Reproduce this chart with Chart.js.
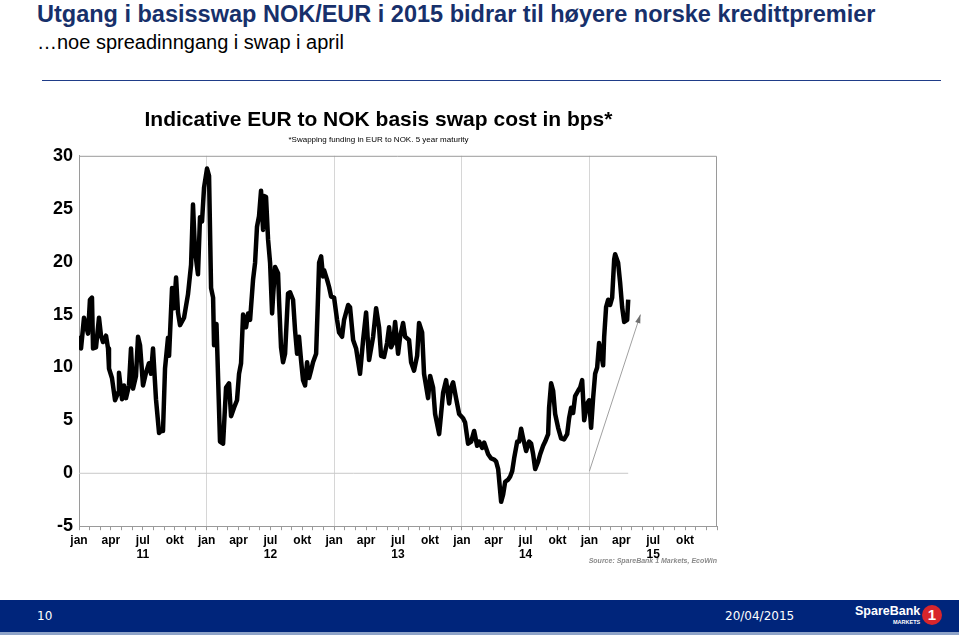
<!DOCTYPE html>
<html lang="no">
<head>
<meta charset="UTF-8">
<title>Utgang i basisswap NOK/EUR</title>
<script src="https://cdn.jsdelivr.net/npm/chart.js"></script>
<style>
    body {
        margin: 0;
        width: 959px;
        height: 635px;
        background: #fff;
        position: relative;
        overflow: hidden;
        font-family: "Liberation Sans", Arial, sans-serif;
    }
    .head {
        position: absolute;
        left: 37px;
        top: 1px;
        font-weight: bold;
        font-size: 23.5px;
        color: #17306b;
        white-space: nowrap;
    }
    .sub {
        position: absolute;
        left: 37px;
        top: 31px;
        font-size: 20px;
        color: #000;
        white-space: nowrap;
    }
    .rule {
        position: absolute;
        left: 42px;
        top: 80px;
        width: 899px;
        height: 0;
        border-top: 1.5px solid #1f3c88;
    }
    .chart-box {
        position: absolute;
        left: 40px;
        top: 100px;
        width: 690px;
        height: 475px;
    }
    .source {
        position: absolute;
        right: 242px;
        top: 557px;
        font-size: 7px;
        font-weight: bold;
        font-style: italic;
        color: #8a8a8a;
    }
    .footer {
        position: absolute;
        left: 0;
        top: 600px;
        width: 959px;
        height: 32px;
        background: #00257b;
        color: #fff;
        font-family: "DejaVu Sans", sans-serif;
        font-size: 12px;
    }
    .footer .page { position: absolute; left: 37px; top: 9px; }
    .footer .date { position: absolute; left: 725px; top: 9px; }
    .footer .logo {
        position: absolute; left: 855px; top: 4px;
        font-family: "Liberation Sans", Arial, sans-serif; font-weight: bold; font-size: 12.5px;
    }
    .footer .logo small { position: absolute; left: 38px; top: 15px; font-size: 5.5px; }
    .footer .one {
        position: absolute; left: 922px; top: 5px; width: 20px; height: 20px;
        border-radius: 50%; background: #d8262c; color: #fff; text-align: center;
        font-family: "Liberation Sans", Arial, sans-serif;
        font-weight: bold; font-size: 15px; line-height: 20px;
    }
    .strip { position: absolute; left: 0; top: 632px; width: 959px; height: 3px; background: #8ea3c8; }
</style>
</head>
<body>

<div class="head">Utgang i basisswap NOK/EUR i 2015 bidrar til høyere norske kredittpremier</div>
<div class="sub">…noe spreadinngang i swap i april</div>
<div class="rule"></div>

<div class="chart-box">
    <canvas id="swapChart"></canvas>
</div>
<div class="source">Source: SpareBank 1 Markets, EcoWin</div>

<div class="footer">
    <span class="page">10</span>
    <span class="date">20/04/2015</span>
    <span class="logo">SpareBank<small>MARKETS</small></span>
    <span class="one">1</span>
</div>
<div class="strip"></div>

<script>
    // time in months since jan 2011, value in bps
    const months = [
        0.00, 0.19, 0.47, 0.85, 1.03, 1.22, 1.32, 1.60, 1.88, 2.07, 2.26, 2.54, 2.73, 2.82, 3.10, 3.39,
        3.67, 3.76, 4.05, 4.23, 4.42, 4.70, 4.89, 5.08, 5.36, 5.55, 5.74, 6.02, 6.30, 6.58, 6.77, 6.96,
        7.24, 7.53, 7.71, 7.90, 8.09, 8.37, 8.47, 8.75, 8.94, 9.13, 9.31, 9.50, 9.88, 10.25, 10.54, 10.72,
        10.91, 11.19, 11.38, 11.57, 11.76, 12.04, 12.23, 12.42, 12.61, 12.70, 12.93, 13.26, 13.55, 13.83,
        14.11, 14.30, 14.58, 14.86, 15.05, 15.24, 15.43, 15.71, 15.90, 16.09, 16.37, 16.56, 16.74, 16.93,
        17.12, 17.31, 17.40, 17.59, 17.78, 17.97, 18.16, 18.25, 18.44, 18.72, 18.81, 19.00, 19.19, 19.38,
        19.66, 19.85, 20.13, 20.32, 20.51, 20.69, 20.88, 21.07, 21.26, 21.45, 21.64, 21.82, 22.01, 22.30,
        22.48, 22.58, 22.77, 22.95, 23.05, 23.33, 23.52, 23.71, 23.99, 24.27, 24.46, 24.74, 24.93, 25.31,
        25.49, 25.78, 26.06, 26.43, 26.72, 27.00, 27.28, 27.66, 27.94, 28.22, 28.41, 28.69, 28.97, 29.16,
        29.35, 29.54, 29.73, 30.01, 30.20, 30.48, 30.67, 31.04, 31.23, 31.51, 31.80, 31.98, 32.27, 32.45,
        32.83, 33.02, 33.30, 33.49, 33.87, 34.05, 34.24, 34.52, 34.81, 34.99, 35.18, 35.46, 35.75, 36.12,
        36.31, 36.59, 36.88, 37.16, 37.44, 37.63, 37.91, 38.10, 38.48, 38.76, 39.04, 39.23, 39.42, 39.70,
        39.89, 40.08, 40.36, 40.55, 40.74, 40.92, 41.21, 41.39, 41.58, 41.77, 42.05, 42.33, 42.52, 42.71,
        42.90, 43.18, 43.37, 43.65, 43.84, 44.12, 44.21, 44.40, 44.59, 44.78, 45.06, 45.34, 45.62, 45.91,
        46.09, 46.28, 46.47, 46.66, 46.94, 47.13, 47.32, 47.51, 47.79, 47.98, 48.16, 48.35, 48.54, 48.73,
        48.91, 49.10, 49.29, 49.39, 49.57, 49.76, 49.95, 50.14, 50.33, 50.42, 50.70, 50.89, 51.08, 51.27,
        51.55, 51.65
    ];
    const swapCost = [
        13.0, 11.8, 14.7, 13.2, 16.4, 16.6, 11.8, 11.9, 14.7, 13.0, 12.4, 13.0, 11.8, 9.9, 9.0, 6.9,
        7.6, 9.5, 7.0, 8.3, 7.1, 8.3, 11.8, 8.0, 9.2, 12.9, 12.1, 8.3, 9.5, 10.4, 9.4, 11.8,
        7.0, 3.8, 4.0, 4.0, 9.9, 12.8, 11.1, 17.5, 15.6, 18.5, 15.2, 14.0, 14.7, 16.9, 19.7, 25.4,
        21.0, 18.8, 24.2, 23.8, 27.0, 28.8, 28.1, 17.5, 16.6, 12.1, 14.1, 3.0, 2.8, 8.1,
        8.5, 5.4, 6.2, 6.9, 9.4, 10.4, 15.0, 13.8, 15.1, 14.5, 18.3, 19.9, 23.3, 24.3,
        26.7, 23.0, 26.2, 26.1, 22.1, 19.9, 15.1, 16.7, 19.5, 18.9, 16.4, 11.9, 10.5, 11.3,
        17.0, 17.1, 16.4, 13.5, 11.3, 12.9, 10.7, 8.8, 8.3, 10.5, 9.0, 9.7, 10.5, 11.3,
        16.7, 19.9, 20.5, 18.6, 19.2, 18.3, 17.6, 16.7, 16.6, 14.5, 13.3, 12.9, 14.5, 15.9,
        15.7, 12.6, 11.8, 9.4, 12.6, 15.2, 10.7, 12.9, 15.6, 13.8, 11.1, 11.0, 12.3, 13.8,
        11.9, 12.3, 14.3, 11.3, 12.9, 14.2, 12.9, 12.6, 10.5, 9.7, 11.1, 14.2, 13.3, 9.4,
        7.1, 9.2, 8.1, 5.6, 3.7, 5.6, 7.6, 8.8, 6.6, 8.1, 8.6, 7.1, 5.6, 5.2,
        4.8, 2.8, 3.0, 4.0, 2.6, 3.0, 2.4, 2.9, 1.8, 1.4, 1.3, 1.1, 0.4, -2.7,
        -2.0, -0.8, -0.6, -0.3, 0.2, 1.4, 3.0, 3.0, 4.2, 3.3, 2.1, 3.0, 2.8, 1.8,
        0.4, 1.1, 1.8, 2.6, 3.0, 3.7, 6.2, 8.5, 7.8, 5.6, 4.3, 3.3, 3.2, 3.7,
        5.2, 6.2, 5.7, 7.3, 7.8, 8.1, 8.8, 5.0, 6.6, 6.9, 4.3, 7.1, 9.4, 10.0,
        12.3, 11.3, 10.2, 12.9, 15.7, 16.4, 15.9, 16.6, 20.2, 20.7, 19.9, 18.0, 15.7, 14.3,
        14.5, 16.4
    ];

    const monthLabels = ['jan', 'apr', 'jul', 'okt'];
    const yearLabels = ['11', '12', '13', '14', '15'];

    // arrow annotation: start / end in (month, bps)
    const arrowFrom = [48.0, 0.2];
    const arrowTo = [52.8, 15.0];

    const series = months.map((m, i) => ({ x: m, y: swapCost[i] }));
    const zeroLine = [{ x: months[0], y: 0 }, { x: months[months.length - 1], y: 0 }];

    const frameAndArrow = {
        id: 'frameAndArrow',
        afterDatasetsDraw(chart) {
            const { ctx, chartArea: a, scales } = chart;
            ctx.save();
            ctx.strokeStyle = '#9a9a9a';
            ctx.lineWidth = 1;
            ctx.beginPath();
            ctx.moveTo(a.left, a.top + 0.5);
            ctx.lineTo(a.right - 0.5, a.top + 0.5);
            ctx.lineTo(a.right - 0.5, a.bottom);
            ctx.stroke();

            const x1 = scales.x.getPixelForValue(arrowFrom[0]);
            const y1 = scales.y.getPixelForValue(arrowFrom[1]);
            const x2 = scales.x.getPixelForValue(arrowTo[0]);
            const y2 = scales.y.getPixelForValue(arrowTo[1]);
            const ang = Math.atan2(y2 - y1, x2 - x1);
            ctx.strokeStyle = '#a0a0a0';
            ctx.fillStyle = '#707070';
            ctx.beginPath();
            ctx.moveTo(x1, y1);
            ctx.lineTo(x2, y2);
            ctx.stroke();
            ctx.beginPath();
            ctx.moveTo(x2, y2);
            ctx.lineTo(x2 - 9 * Math.cos(ang - 0.3), y2 - 9 * Math.sin(ang - 0.3));
            ctx.lineTo(x2 - 9 * Math.cos(ang + 0.3), y2 - 9 * Math.sin(ang + 0.3));
            ctx.closePath();
            ctx.fill();
            ctx.restore();
        }
    };

    new Chart(document.getElementById('swapChart'), {
        type: 'line',
        data: {
            datasets: [
                {
                    data: series,
                    borderColor: '#000',
                    borderWidth: 4.5,
                    pointRadius: 0,
                    tension: 0,
                    borderJoinStyle: 'round'
                },
                {
                    data: zeroLine,
                    borderColor: '#c8c8c8',
                    borderWidth: 1,
                    pointRadius: 0
                }
            ]
        },
        options: {
            responsive: true,
            maintainAspectRatio: false,
            animation: false,
            layout: { padding: { left: 0, right: 13, bottom: 10 } },
            plugins: {
                legend: { display: false },
                tooltip: { enabled: false },
                title: {
                    display: true,
                    text: 'Indicative EUR to NOK basis swap cost in bps*',
                    color: '#000',
                    font: { family: '"Liberation Sans", Arial', weight: 'bold', size: 21 },
                    padding: { top: 8, bottom: 0 }
                },
                subtitle: {
                    display: true,
                    text: '*Swapping funding in EUR to NOK. 5 year maturity',
                    color: '#000',
                    font: { family: '"Liberation Sans", Arial', size: 8 },
                    padding: { top: 2, bottom: 11 }
                }
            },
            scales: {
                x: {
                    type: 'linear',
                    min: 0,
                    max: 60,
                    border: { color: '#9a9a9a' },
                    grid: {
                        color: c => (c.tick.value % 12 === 0 && c.tick.value > 0 && c.tick.value < 60) ? '#d6d6d6' : 'rgba(0,0,0,0)',
                        borderDash: [1, 2],
                        tickColor: '#9a9a9a',
                        tickLength: 4
                    },
                    ticks: {
                        stepSize: 1,
                        autoSkip: false,
                        maxRotation: 0,
                        color: '#000',
                        font: { family: '"Liberation Sans", Arial', weight: 'bold', size: 12 },
                        padding: 3,
                        callback: v => {
                            if (v % 3 !== 0 || v >= 60) return '';
                            const name = monthLabels[(v % 12) / 3];
                            if (v % 12 === 6) return [name, yearLabels[Math.floor(v / 12)]];
                            return name;
                        }
                    }
                },
                y: {
                    min: -5,
                    max: 30,
                    border: { color: '#9a9a9a' },
                    grid: { display: false, drawTicks: false },
                    afterFit: s => { s.width = 39; },
                    ticks: {
                        stepSize: 5,
                        color: '#000',
                        padding: 6,
                        font: { family: '"Liberation Sans", Arial', weight: 'bold', size: 18 }
                    }
                }
            }
        },
        plugins: [frameAndArrow]
    });
</script>
</body>
</html>
